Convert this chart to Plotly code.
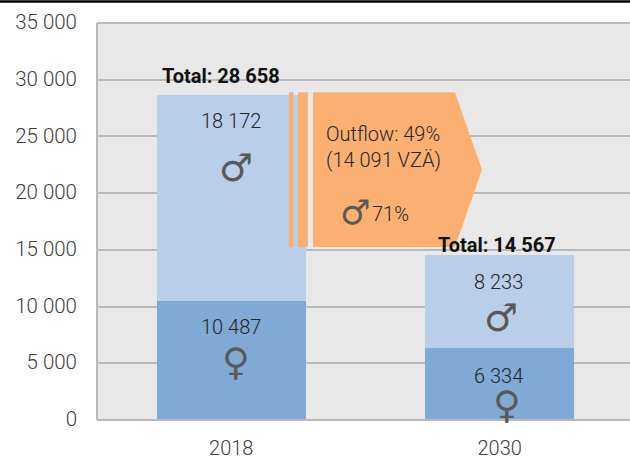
import plotly.graph_objects as go

categories = ["2018", "2030"]
female = [10487, 6334]
male = [18172, 8233]
female_labels = ["10 487", "6 334"]
male_labels = ["18 172", "8 233"]
total_labels = ["Total: 28 658", "Total: 14 567"]
tick_vals = [0, 5000, 10000, 15000, 20000, 25000, 30000, 35000]
tick_text = ["0", "5 000", "10 000", "15 000", "20 000", "25 000", "30 000", "35 000"]
outflow_top = 28890
outflow_bottom = 15250

W, H = 630, 457
L, T, B = 97.1, 22.5, 420.5
UNIT = 268.4
def px(x):
    return -0.5 + (x - L) / UNIT
def py(y):
    return (B - y) / (B - T) * 35000

GREY = "#595959"
TXT = "#262626"
FONT = "Roboto Light"
fig = go.Figure()
fig.add_bar(x=[0, 1], y=female, width=0.556, marker=dict(color="#80a9d6", line=dict(width=0)))
fig.add_bar(x=[0, 1], y=male, width=0.556, marker=dict(color="#b8cee9", line=dict(width=0)))

shapes = []
for a, b in [(289, 293.5), (298, 308)]:
    shapes.append(dict(type="rect", x0=px(a), x1=px(b), y0=outflow_bottom, y1=outflow_top,
                       fillcolor="#fbb071", line_width=0, layer="above"))
shapes.append(dict(type="rect", x0=px(308), x1=px(313), y0=outflow_bottom, y1=outflow_top,
                   fillcolor="#e8e8e8", line_width=0, layer="above"))
p = [(313, outflow_top), (455, outflow_top), (482, (outflow_top + outflow_bottom) / 2), (455, outflow_bottom), (313, outflow_bottom)]
path = "M " + " L ".join(f"{px(x)} {y}" for x, y in p) + " Z"
shapes.append(dict(type="path", path=path, fillcolor="#fbb071", line_width=0, layer="above"))

def note(x, y, text, size=20, color=TXT, weight=300, family=FONT, align="center"):
    fig.add_annotation(x=px(x), y=py(y), text=text, showarrow=False, xanchor=align, yanchor="middle", align="left",
                       font=dict(family=family, size=size, color=color, weight=weight))

note(221.5, 76, total_labels[0], 20, "#111111", 700, "Roboto")
note(497.5, 245, total_labels[1], 20, "#111111", 700, "Roboto")
note(231, 121, male_labels[0])
note(231, 327, female_labels[0])
note(499, 282, male_labels[1])
note(499, 376, female_labels[1])
note(324, 134, "Outflow: 49%", align="left")
note(324, 160, "(14 091 VZÄ)", align="left")
note(370, 214, "71%", align="left")
sym = "DejaVu Sans"
note(236, 168, "♂", 38, GREY, 400, sym)
note(236, 362, "♀", 38, GREY, 400, sym)
note(501, 318, "♂", 38, GREY, 400, sym)
note(507, 405, "♀", 38, GREY, 400, sym)
note(355, 212, "♂", 34, GREY, 400, sym)

fig.update_layout(
    barmode="stack", width=W, height=H, autosize=False, showlegend=False,
    paper_bgcolor="white", plot_bgcolor="#e8e8e8",
    margin=dict(l=L, r=0, t=T, b=H - B), shapes=shapes,
    font=dict(family=FONT, size=20, color="#404040", weight=300),
    xaxis=dict(range=[-0.5, px(630)], tickvals=[0, 1], ticktext=categories, showgrid=False, zeroline=False, automargin=False,
               showline=False, ticks="", ticklabelstandoff=14, tickfont=dict(size=20, family=FONT, color="#404040", weight=300)),
    yaxis=dict(range=[0, 35000], tickvals=tick_vals, ticktext=tick_text, showgrid=True, gridcolor="#b9b9b9", gridwidth=2,
               zeroline=False, showline=False, ticks="", ticklabelstandoff=19, ticklabelshift=-1, automargin=False,
               tickfont=dict(size=20.5, family=FONT, color="#404040", weight=300)),
)
fig.add_shape(type="line", xref="paper", yref="paper", x0=0, x1=0, y0=0, y1=1, line=dict(color="#b9b9b9", width=2), layer="below")
fig.add_shape(type="line", xref="paper", yref="paper", x0=0, x1=1, y0=0, y1=0, line=dict(color="#b9b9b9", width=2), layer="above")
fig.add_shape(type="line", xref="paper", yref="paper", x0=0, x1=1, y0=1, y1=1, line=dict(color="#b9b9b9", width=2), layer="below")
ytop = (B - 1) / (B - T)
fig.add_shape(type="line", xref="paper", yref="paper", x0=-L / (W - L), x1=1, y0=ytop, y1=ytop, line=dict(color="black", width=2.5), layer="above")
fig.write_html("out.html", config=dict(displayModeBar=False), post_script="document.body.style.margin='0';document.documentElement.style.overflow='hidden';")
